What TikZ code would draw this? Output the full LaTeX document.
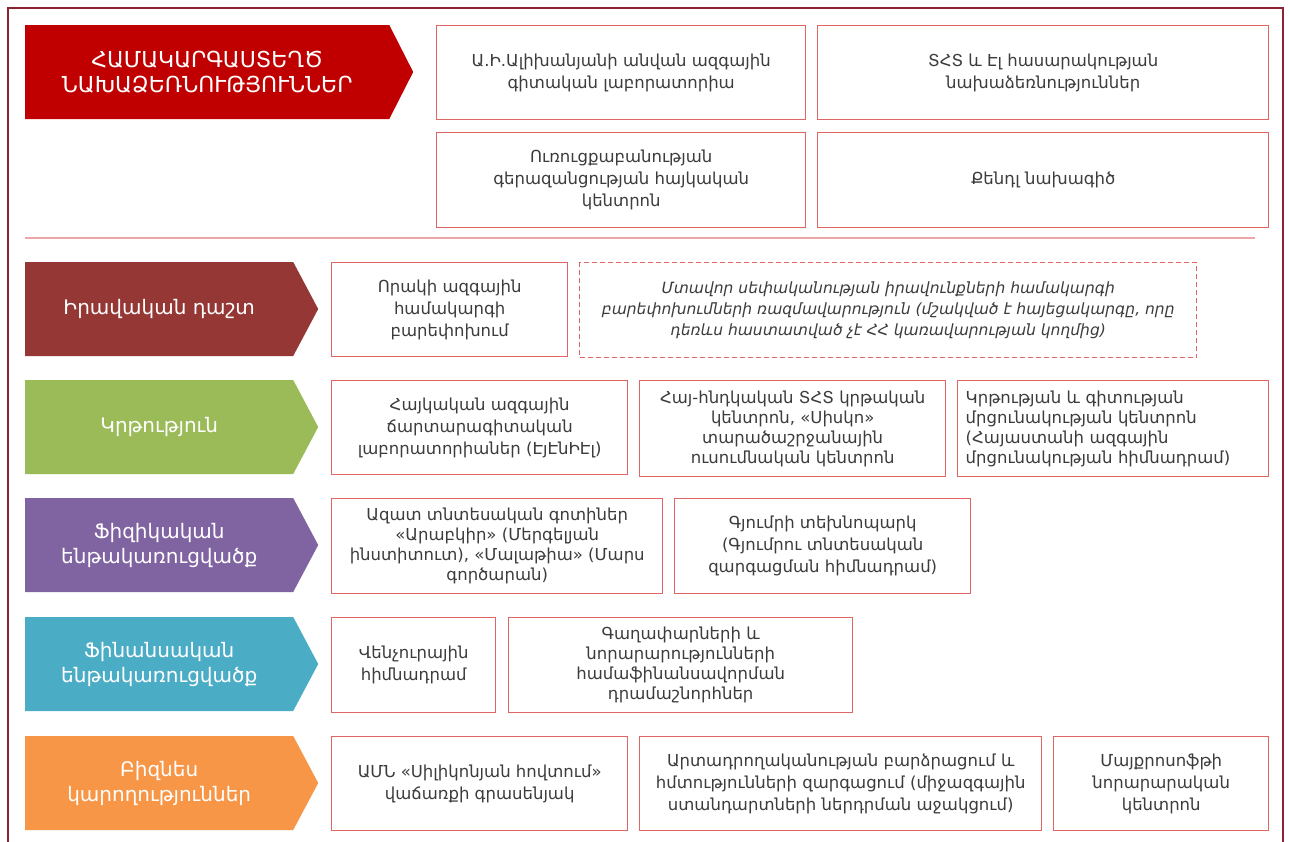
\documentclass[tikz,border=0pt]{standalone}
\usepackage{fontspec}
\setmainfont{DejaVu Sans}
\usetikzlibrary{shapes.symbols}
\definecolor{frame}{HTML}{8B2332}
\definecolor{boxline}{HTML}{E06666}
\definecolor{sepline}{HTML}{EBA7A7}
\definecolor{hdr}{HTML}{C00000}
\definecolor{rowA}{HTML}{953735}
\definecolor{rowB}{HTML}{9BBB59}
\definecolor{rowC}{HTML}{8064A2}
\definecolor{rowD}{HTML}{4BACC6}
\definecolor{rowE}{HTML}{F79646}
\definecolor{txt}{HTML}{3C3C3C}
\tikzset{
  ibox/.style={draw=boxline, line width=1.4pt, fill=white, anchor=north west, inner sep=2pt,
    align=center, text=txt, font=\fontsize{16.5}{22}\selectfont},
  fourline/.style={font=\fontsize{16.5}{20}\selectfont},
  dbox/.style={ibox, dashed, dash pattern=on 5pt off 3pt, font=\fontsize{15.5}{21}\selectfont\itshape},
  rowarrow/.style={signal, signal to=east, signal pointer angle=124, anchor=west,
    minimum width=293pt, minimum height=94pt, inner sep=0pt, text=white, align=center,
    font=\fontsize{20}{25}\selectfont, draw=none},
}
\begin{document}
\begin{tikzpicture}[x=1pt,y=-1pt]
\useasboundingbox (0,0) rectangle (1290,841);
\fill[white] (0,0) rectangle (1290,841);
\begin{scope}
\clip (0,0) rectangle (1290,841);
\draw[frame, line width=1.6pt] (8,8) rectangle (1283,860);
\end{scope}

% header
\node[signal, signal to=east, signal pointer angle=126, anchor=west, fill=hdr,
  minimum width=388pt, minimum height=94pt, inner sep=0pt, text=white, align=center,
  font=\fontsize{22}{25}\selectfont] (hdr) at (25,72)
  {ՀԱՄԱԿԱՐԳԱՍՏԵՂԾ\\ՆԱԽԱՁԵՌՆՈՒԹՅՈՒՆՆԵՐ};

\node[ibox, minimum width=369pt, minimum height=94pt] (t1) at (436,25)
  {Ա.Ի.Ալիխանյանի անվան ազգային\\գիտական լաբորատորիա};
\node[ibox, minimum width=451pt, minimum height=94pt] (t2) at (817,25)
  {ՏՀՏ և Էլ հասարակության\\նախաձեռնություններ};
\node[ibox, minimum width=369pt, minimum height=95pt] (t3) at (436,132)
  {Ուռուցքաբանության\\գերազանցության հայկական\\կենտրոն};
\node[ibox, minimum width=451pt, minimum height=95pt] (t4) at (817,132)
  {Քենդլ նախագիծ};

\draw[sepline, line width=1.8pt] (25,238) -- (1255,238);

% row 1
\node[rowarrow, fill=rowA] (r1) at (25,309) {Իրավական դաշտ};
\node[ibox, minimum width=236pt, minimum height=94pt] (b11) at (331,262)
  {Որակի ազգային\\համակարգի\\բարեփոխում};
\node[dbox, minimum width=617pt, minimum height=95pt] (b12) at (579,262)
  {Մտավոր սեփականության իրավունքների համակարգի\\բարեփոխումների ռազմավարություն (մշակված է հայեցակարգը, որը\\դեռևս  հաստատված չէ ՀՀ կառավարության կողմից)};

% row 2
\node[rowarrow, fill=rowB] (r2) at (25,427) {Կրթություն};
\node[ibox, minimum width=296pt, minimum height=94pt] (b21) at (331,380)
  {Հայկական ազգային\\ճարտարագիտական\\լաբորատորիաներ  (ԷյԷնԻԷլ)};
\node[ibox, fourline, minimum width=306pt, minimum height=96pt] (b22) at (639,380)
  {Հայ-հնդկական ՏՀՏ կրթական\\կենտրոն, «Սիսկո»\\տարածաշրջանային\\ուսումնական կենտրոն};
\node[ibox, fourline, minimum width=311pt, minimum height=96pt, text width=295pt, inner sep=0pt, align=left] (b23) at (957,380)
  {Կրթության և գիտության\\մրցունակության կենտրոն\\(Հայաստանի ազգային\\մրցունակության հիմնադրամ)};

% row 3
\node[rowarrow, fill=rowC] (r3) at (25,545) {Ֆիզիկական\\ենթակառուցվածք};
\node[ibox, fourline, minimum width=331pt, minimum height=95pt] (b31) at (331,498)
  {Ազատ տնտեսական գոտիներ\\«Արաբկիր» (Մերգելյան\\ինստիտուտ), «Մալաթիա» (Մարս\\գործարան)};
\node[ibox, minimum width=296pt, minimum height=95pt] (b32) at (674,498)
  {Գյումրի տեխնոպարկ\\(Գյումրու տնտեսական\\զարգացման հիմնադրամ)};

% row 4
\node[rowarrow, fill=rowD] (r4) at (25,664) {Ֆինանսական\\ենթակառուցվածք};
\node[ibox, minimum width=164pt, minimum height=95pt] (b41) at (331,617)
  {Վենչուրային\\հիմնադրամ};
\node[ibox, fourline, minimum width=344pt, minimum height=95pt] (b42) at (508,617)
  {Գաղափարների և\\նորարարությունների\\համաֆինանսավորման\\դրամաշնորհներ};

% row 5
\node[rowarrow, fill=rowE] (r5) at (25,783) {Բիզնես\\կարողություններ};
\node[ibox, minimum width=296pt, minimum height=94pt] (b51) at (331,736)
  {ԱՄՆ «Սիլիկոնյան հովտում»\\վաճառքի գրասենյակ};
\node[ibox, minimum width=402pt, minimum height=94pt] (b52) at (639,736)
  {Արտադրողականության բարձրացում և\\հմտությունների զարգացում (միջազգային\\ստանդարտների ներդրման աջակցում)};
\node[ibox, minimum width=215pt, minimum height=94pt] (b53) at (1053,736)
  {Մայքրոսոֆթի\\նորարարական\\կենտրոն};
\end{tikzpicture}
\end{document}
